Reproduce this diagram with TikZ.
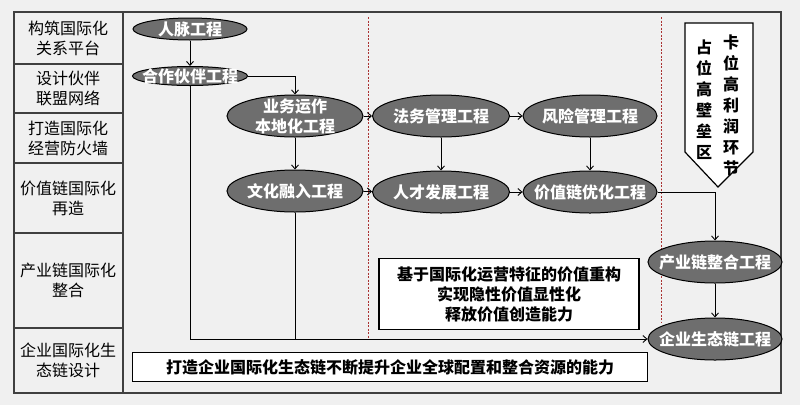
\documentclass[tikz,border=0pt]{standalone}
\usepackage{fontspec}
\setmainfont{Noto Sans CJK SC}
\usetikzlibrary{shapes.geometric,arrows.meta}
\definecolor{bgc}{RGB}{240,240,240}
\definecolor{ellc}{RGB}{110,110,110}
\definecolor{sepc}{RGB}{170,50,50}

\begin{document}
\begin{tikzpicture}[x=1pt,y=-1pt,
  proc/.style={ellipse,draw=black,line width=1pt,fill=ellc,inner sep=0pt,
    minimum width=134,minimum height=42},
  ptxt/.style={text=white,font=\bfseries\fontsize{16}{20}\selectfont,align=center,inner sep=0pt},
  rowtxt/.style={font=\fontsize{16}{20}\selectfont,align=center,inner sep=0pt},
  box/.style={draw=black,line width=1.2pt,fill=white,align=center,
    font=\bfseries\fontsize{16}{20}\selectfont},
  arr/.style={line width=0.9pt,-{Straight Barb[length=4pt,width=7pt]}},
  sep/.style={sepc,line width=0.7pt,dash pattern=on 2pt off 1.5pt}]
  \fill[bgc] (0,0) rectangle (800,405);
  \useasboundingbox (0,0) rectangle (800,405);
  \draw[line width=1.6pt,black!75] (14,12) rectangle (781,393);
  \draw[line width=1.6pt,black!75] (123,12) -- (123,393);
  \foreach \y in {64,113,163,233,328}
    \draw[line width=1.6pt,black!75] (14,\y) -- (123,\y);
  \node[rowtxt] (L_1) at (68,38) {构筑国际化\\关系平台};
  \node[rowtxt] (L_2) at (68,88) {设计伙伴\\联盟网络};
  \node[rowtxt] (L_3) at (68,138) {打造国际化\\经营防火墙};
  \node[rowtxt] (L_4) at (68,198) {价值链国际化\\再造};
  \node[rowtxt] (L_5) at (68,280) {产业链国际化\\整合};
  \node[rowtxt] (L_6) at (68,360) {企业国际化生\\态链设计};
  \draw[sep] (368,17) -- (368,340);
  \draw[sep] (661,17) -- (661,323);
  \draw[line width=1.2pt,fill=white] (685,23) -- (753,23) -- (753,152)
    -- (718,187) -- (685,152) -- cycle;
  \node[rowtxt,font=\bfseries\fontsize{16}{21}\selectfont] (T_1) at (731,105) {卡\\位\\高\\利\\润\\环\\节};
  \node[rowtxt,font=\bfseries\fontsize{16}{21}\selectfont] (T_2) at (704,100) {占\\位\\高\\壁\\垒\\区};
  \node[proc,minimum width=114,minimum height=22,label={[ptxt]center:人脉工程}] (E_1) at (190,29) {};
  \node[proc,minimum width=115,minimum height=19,label={[ptxt]center:合作伙伴工程}] (E_2) at (190,76) {};
  \node[proc,minimum width=136,label={[ptxt]center:业务运作\\本地化工程}] (E_3) at (295,116) {};
  \node[proc,minimum width=136,label={[ptxt]center:文化融入工程}] (E_4) at (295,191) {};
  \node[proc,minimum width=137,label={[ptxt]center:法务管理工程}] (E_5) at (441,116) {};
  \node[proc,label={[ptxt]center:风险管理工程}] (E_6) at (590,116) {};
  \node[proc,minimum width=137,label={[ptxt]center:人才发展工程}] (E_7) at (441,192) {};
  \node[proc,label={[ptxt]center:价值链优化工程}] (E_8) at (590,192) {};
  \node[proc,label={[ptxt]center:产业链整合工程}] (E_9) at (715,262) {};
  \node[proc,label={[ptxt]center:企业生态链工程}] (E_10) at (715,339) {};
  \node[box,minimum width=260,minimum height=71] (B_1) at (509,294)
    {基于国际化运营特征的价值重构\\实现隐性价值显性化\\释放价值创造能力};
  \node[box,minimum width=515,minimum height=29,inner sep=0pt] (B_2) at (390,367)
    {打造企业国际化生态链不断提升企业全球配置和整合资源的能力};
  \draw[arr] (E_1) -- (E_2);
  \draw[arr] (E_2.east) -| (E_3);
  \draw[arr] (E_3) -- (E_4);
  \draw[arr] (E_3) -- (E_5);
  \draw[arr] (E_5) -- (E_6);
  \draw[arr] (E_4) -- (E_7);
  \draw[arr] (E_5) -- (E_7);
  \draw[arr] (E_6) -- (E_8);
  \draw[arr] (E_7) -- (E_8);
  \draw[arr] (E_8.east) -| (E_9);
  \draw[arr] (E_9) -- (E_10);
  \draw[arr] (E_2.south) |- (E_10.west);
  \draw[line width=0.9pt] (E_4.south) -- (E_4.south |- E_10.west);
\end{tikzpicture}
\end{document}
